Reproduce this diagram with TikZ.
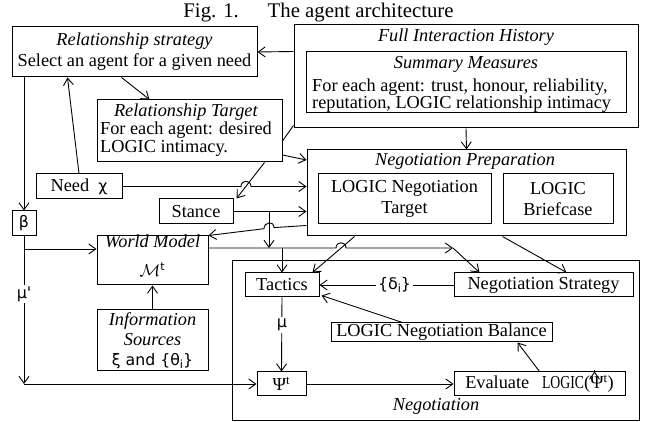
\documentclass[tikz,border=0pt]{standalone}
\usepackage{fontspec}
\usepackage{graphicx}
\setmainfont{Liberation Serif}
\newfontfamily\gk[Scale=0.86]{DejaVu Sans}
\usetikzlibrary{arrows.meta,calc}
\begin{document}
\begin{tikzpicture}[x=1pt,y=-1pt,
  font=\fontsize{18.3}{18.3}\selectfont,
  box/.style={draw, line width=1pt, inner sep=0pt, align=center},
  txt/.style={inner sep=0pt},
  conn/.style={line width=0.9pt, -{Straight Barb[length=7pt,width=10pt,line width=0.9pt]}},
  plain/.style={line width=0.9pt},
  lbl/.style={fill=white, inner sep=2pt, font=\fontsize{18.5}{18.5}\gk}]
\useasboundingbox (0,0) rectangle (646,422);

% title
\node[txt, anchor=base] (title) at (318.5,17.5) {\fontsize{20.8}{20.8}\selectfont Fig. 1.\hspace{1.05em} The agent architecture};

% boxes
\node[box, minimum width=245, minimum height=50] (rs) at (134.5,52)
  {\textit{Relationship strategy}\\[2.5pt]Select an agent for a given need};
\node[box, minimum width=344, minimum height=103] (fih) at (466,76.5) {};
\node[txt] (fiht) at (466,37) {\textit{Full Interaction History}};
\node[box, minimum width=320, minimum height=61] (sm) at (466,82.5) {};
\node[txt, anchor=base] (smt) at (466,69) {\textit{Summary Measures}};
\node[txt, anchor=base west] (sm1) at (312,91.5) {For each agent: trust, honour, reliability,};
\node[txt, anchor=base west] (sm2) at (312,109) {reputation, LOGIC relationship intimacy};

\node[box, minimum width=185, minimum height=62] (rt) at (189.5,131) {};
\node[txt] (rtt) at (186,131) {\begin{tabular}{@{}l@{}}\multicolumn{1}{@{}c@{}}{\textit{Relationship Target}}\\For each agent: desired\\LOGIC intimacy.\end{tabular}};

\node[box, minimum width=86, minimum height=25] (need) at (79,186.5) {Need\hspace{0.5em}{\gk χ}};
\node[box, minimum width=74, minimum height=25] (st) at (196,211.5) {Stance};
\node[box, minimum width=24, minimum height=25] (beta) at (24,223.5) {\gk β};

\node[box, minimum width=111, minimum height=49] (wm) at (152.5,260.5) {};
\node[txt, anchor=base] (wmt) at (152.5,248) {\textit{World Model}};
\node[txt, anchor=base] (wmm) at (152.5,277) {$\mathcal{M}$\textsuperscript{\gk t}};
\node[box, minimum width=111, minimum height=61] (is) at (152.5,340.5)
  {\textit{Information}\\[1.5pt]\textit{Sources}\\[1.5pt]{\gk ξ and \{θ\raisebox{-0.35ex}{\fontsize{13}{13}\selectfont i}\}}};

\node[box, minimum width=319, minimum height=86] (np) at (466.5,193) {};
\node[txt, anchor=base] (npt) at (465,166) {\textit{Negotiation Preparation}};
\node[box, minimum width=173, minimum height=50] (lnt) at (404.5,199) {LOGIC Negotiation\\[3.5pt]Target};
\node[box, minimum width=110, minimum height=50] (lb) at (558,199) {LOGIC\\[3.5pt]Briefcase};

\node[box, minimum width=407, minimum height=159] (neg) at (435.5,340.5) {};
\node[txt] (negt) at (436,406) {\textit{Negotiation}};
\node[box, minimum width=74, minimum height=24] (tac) at (282,285) {Tactics};
\node[box, minimum width=179, minimum height=24] (ns) at (543.5,285) {Negotiation Strategy};
\node[box, minimum width=221, minimum height=19] (lnb) at (441.5,332.5) {LOGIC Negotiation Balance};
\node[box, minimum width=49, minimum height=24] (psi) at (281.5,384) {Ψ\textsuperscript{t}};
\node[box, minimum width=171, minimum height=24] (eval) at (539.5,384) {Evaluate\hspace{0.7em}\scalebox{0.75}[1]{LOGIC}(Ψ\textsuperscript{t})};

% junction coordinates
\coordinate (corner) at (24,384);
\coordinate (bj) at (24,249);
\coordinate (stj) at (269,211.5);
\coordinate (stend) at (269,248);
\coordinate (wmr) at (453,248);

% connectors
\draw[conn] ($(fih.north west)+(0,27)$) -- (rs.east);
\draw[conn] ($(rs.south west)+(110,0)$) -- ($(rt.north west)+(53,0)$);
\draw[conn] (need.north) -- ($(rs.south west)+(56,0)$);
\draw[conn] (rs.south west -| beta) -- (beta.north);
\draw[conn] (beta.south) -- node[lbl, pos=0.39] {μ'} (corner);
\draw[conn] (corner) -- (corner -| psi.west);
\draw[conn] (bj) -- (bj -| wm.west);
\draw[conn] (fih.south) -- (np.north);
\draw[plain] ($(fih.south west)+(0,-3)$) -- ($(rt.east)+(0,10)$);
\draw[conn] ($(rt.east)+(0,24)$) -- ($(np.west)+(0,-33)$);
\draw[conn] ($(rt.south west)+(168,0)$) -- ($(st.north east)+(3,0)$);
\draw[conn] (need.east) -- (241,186.5) .. controls (241,179.5) and (251,179.5) .. (251,186.5) -- (need.east -| np.west);
\draw[conn] (st.east) -- (st.east -| np.west);
\draw[conn] (stj) -- (stend);
\draw[conn] ($(np.south west)+(0,-11)$) -- (274,227.6) .. controls (274,220.6) and (264,221.7) .. (264,228.7) -- (wm.north east);
\draw[conn] (wm.east |- wmr) -- (336,248) .. controls (336,241) and (346,241) .. (346,248) -- (wmr);
\draw[conn] (wmr) -- ($(ns.north west)+(26,0)$);
\draw[conn] (tac.north |- wmr) -- (tac.north);
\draw[conn] ($(np.south west)+(48,0)$) -- ($(tac.north east)+(-7,0)$);
\draw[conn] ($(np.south west)+(196,0)$) -- ($(ns.north west)+(113,0)$);
\draw[conn] (ns.west) -- node[lbl, pos=0.44] {\{δ\raisebox{-0.35ex}{\fontsize{13}{13}\selectfont i}\}} (tac.east);
\draw[conn] ($(lnb.north west)+(72,0)$) -- ($(tac.south east)+(2,-2)$);
\draw[conn] (tac.south) -- node[lbl, pos=0.37] {μ} (psi.north);
\draw[conn] (psi.east) -- (eval.west);
\draw[conn] ($(eval.north west)+(86,0)$) -- ($(lnb.south west)+(187,0)$);
\draw[conn] ($(eval.north west)+(141,0)$) -- ($(eval.north west)+(141,0)$ |- ns.south);
\draw[conn] (is.north) -- (wm.south);
\end{tikzpicture}
\end{document}
